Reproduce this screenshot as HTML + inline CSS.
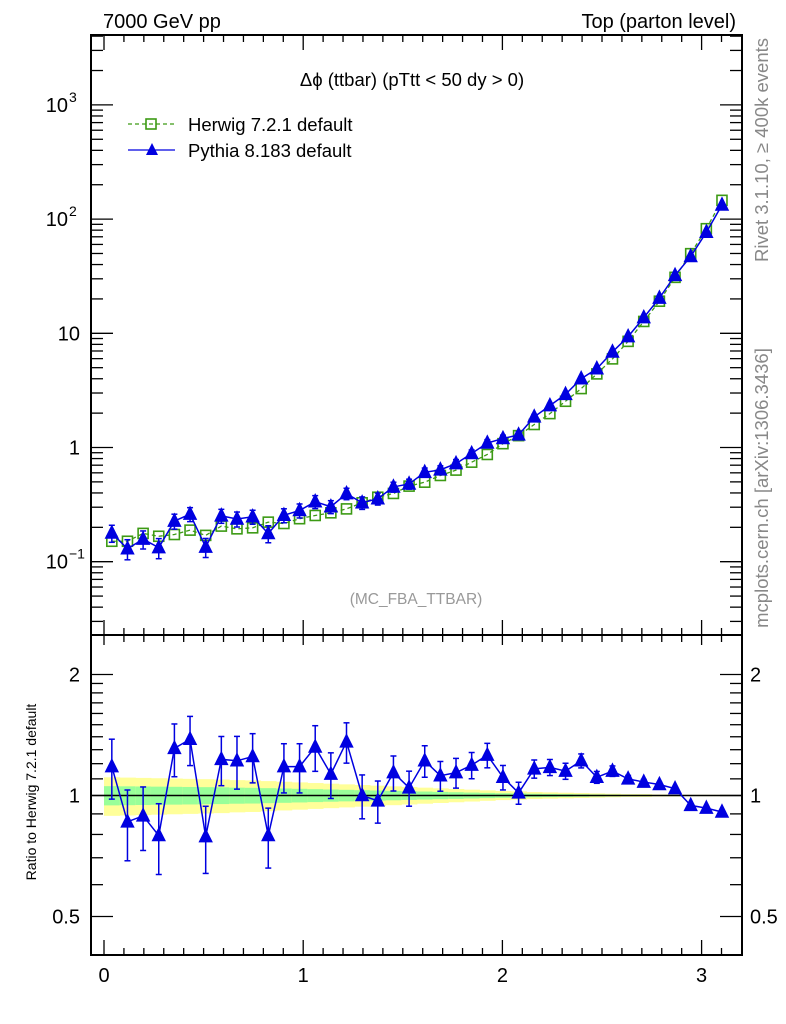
<!DOCTYPE html>
<html><head><meta charset="utf-8"><style>
html,body{margin:0;padding:0;background:#fff;}
svg{display:block;font-family:"Liberation Sans",sans-serif;}
</style></head><body>
<svg id="chart" width="786" height="1024" viewBox="0 0 786 1024" xmlns="http://www.w3.org/2000/svg">
<text x="103" y="28" font-size="20">7000 GeV pp</text>
<text x="736" y="28" font-size="20" text-anchor="end">Top (parton level)</text>
<text x="412" y="86" font-size="18.5" text-anchor="middle">Δϕ (ttbar) (pTtt &lt; 50 dy &gt; 0)</text>
<text x="416" y="604" font-size="15.5" fill="#999" text-anchor="middle">(MC_FBA_TTBAR)</text>
<text transform="translate(768,150) rotate(-90)" font-size="18.5" fill="#888" text-anchor="middle">Rivet 3.1.10, ≥ 400k events</text>
<text transform="translate(768,488) rotate(-90)" font-size="18.5" fill="#888" text-anchor="middle">mcplots.cern.ch [arXiv:1306.3436]</text>
<text transform="translate(36,792) rotate(-90)" font-size="14" text-anchor="middle">Ratio to Herwig 7.2.1 default</text>
<g id="legend">
<g>
<line x1="128" y1="124" x2="175" y2="124" stroke="#3c9a14" stroke-width="1.3" stroke-dasharray="4,3"/>
<rect x="146" y="119" width="10" height="10" fill="none" stroke="#3c9a14" stroke-width="1.6"/>
<text x="188" y="131" font-size="18.5">Herwig 7.2.1 default</text></g>
<g>
<line x1="128" y1="150" x2="175" y2="150" stroke="#0000e0" stroke-width="1.3"/>
<polygon points="152,143 158,155 146,155" fill="#0000e0"/>
<text x="188" y="157" font-size="18.5">Pythia 8.183 default</text></g>
</g>
<g id="plot"></g>
</svg>
<script>
const binCenters=[];for(let i=0;i<40;i++)binCenters.push((i+0.5)*Math.PI/40);
const herwig=[0.151,0.151,0.177,0.167,0.173,0.189,0.170,0.205,0.194,0.198,0.222,0.216,0.238,0.254,0.268,0.290,0.328,0.367,0.396,0.459,0.497,0.569,0.634,0.744,0.869,1.08,1.27,1.59,1.98,2.54,3.28,4.41,5.97,8.5,12.7,19.1,30.9,49.8,82.4,146];
const ratio=[1.18,0.86,0.89,0.795,1.31,1.38,0.79,1.23,1.22,1.25,0.795,1.18,1.18,1.32,1.13,1.36,1.0,0.97,1.14,1.045,1.22,1.12,1.14,1.19,1.26,1.11,1.015,1.165,1.175,1.15,1.22,1.11,1.15,1.10,1.08,1.065,1.04,0.945,0.93,0.91];
const pythiaRelErr=[0.17,0.2,0.18,0.2,0.15,0.14,0.19,0.14,0.15,0.14,0.17,0.14,0.14,0.13,0.13,0.115,0.125,0.12,0.1,0.1,0.09,0.085,0.085,0.075,0.07,0.07,0.063,0.052,0.046,0.046,0.04,0.034,0.03,0.02,0.015,0.012,0.01,0.008,0.007,0.006];
const herwigRelErr=[0.055,0.054,0.053,0.052,0.051,0.05,0.049,0.048,0.046,0.045,0.043,0.041,0.039,0.037,0.035,0.033,0.031,0.029,0.027,0.025,0.023,0.021,0.019,0.017,0.015,0.013,0.012,0.010,0.009,0.008,0.007,0.006,0.005,0.004,0.004,0.003,0.003,0.002,0.002,0.002];
const xTicks=[0,1,2,3];
const mainTicks=[{v:1000,l:"10",e:"3"},{v:100,l:"10",e:"2"},{v:10,l:"10",e:""},{v:1,l:"1",e:""},{v:0.1,l:"10",e:"−1"}];
const ratioTicks=[2,1,0.5];

const L=91,R=742,T=35,MB=635,RB=955;
const sx=v=>104+v*199.2;
const sy=v=>447.5-Math.log10(v)*114.2;
const sr=v=>795.5-Math.log2(v)*121;
const NS="http://www.w3.org/2000/svg";
const g=document.getElementById('plot');
function el(t,a,p){const e=document.createElementNS(NS,t);for(const k in a)e.setAttribute(k,a[k]);(p||g).appendChild(e);return e;}
const W=Math.PI/40;
const pyth=herwig.map((h,i)=>h*ratio[i]);

const bands=el('g',{});


herwigRelErr.forEach((e,i)=>{
 const x0=sx(i*W),x1=sx((i+1)*W);
 const y=el('rect',{x:x0,y:sr(1+2*e),width:x1-x0+0.5,height:sr(1-2*e)-sr(1+2*e),fill:'#ffff99'},bands);
 
 
 const gr=el('rect',{x:x0,y:sr(1+e),width:x1-x0+0.5,height:sr(1-e)-sr(1+e),fill:'#99ff99'},bands);
 
 
});
const one=el('line',{x1:L,x2:R,y1:sr(1),y2:sr(1),stroke:'#000','stroke-width':1.5});



function frame(y0,y1,name){const r=el('rect',{x:L,y:y0,width:R-L,height:y1-y0,fill:'none',stroke:'#000','stroke-width':2});}
frame(T,MB,'main-frame');frame(MB,RB,'ratio-frame');
const ax=el('g',{stroke:'#000','stroke-width':1.3});


for(let k=0;k<=31;k++){const v=k/10,x=sx(v);const maj=k%10==0;const len=maj?15:7;
 [[T,1],[MB,-1],[MB,1],[RB,-1]].forEach(([y,d])=>el('line',{x1:x,x2:x,y1:y,y2:y+d*(maj&&y==MB&&d==1?10:len)},ax));}
for(let d=-2;d<=3;d++)for(let m=1;m<10;m++){const v=m*Math.pow(10,d),y=sy(v);if(y<T||y>MB)continue;const len=m==1?22:12;
 el('line',{x1:L,x2:L+len,y1:y,y2:y},ax);el('line',{x1:R,x2:R-len,y1:y,y2:y},ax);}
[0.4,0.5,0.6,0.7,0.8,0.9,1,1.1,1.2,1.3,1.4,1.5,1.6,1.7,1.8,1.9,2].forEach(v=>{const y=sr(v);if(y<MB||y>RB)return;const len=(v==1||v==2||v==0.5)?22:12;
 el('line',{x1:L,x2:L+len,y1:y,y2:y},ax);el('line',{x1:R,x2:R-len,y1:y,y2:y},ax);});
xTicks.forEach(v=>{const t=el('text',{x:sx(v),y:982,'font-size':20,'text-anchor':'middle'});t.textContent=v;});
mainTicks.forEach(o=>{const t=el('text',{x:o.e?68:80,y:sy(o.v)+7,'font-size':20,'text-anchor':'end'});t.textContent=o.l;
 if(o.e){const s=el('text',{x:69,y:sy(o.v)-3,'font-size':14});s.textContent=o.e;}});
ratioTicks.forEach(v=>{const t=el('text',{x:80,y:sr(v)+7,'font-size':20,'text-anchor':'end'});t.textContent=v;
 const t2=el('text',{x:750,y:sr(v)+7,'font-size':20});t2.textContent=v;});

const hg=el('g',{});


el('polyline',{points:herwig.map((v,i)=>sx(binCenters[i])+','+sy(v)).join(' '),fill:'none',stroke:'#3c9a14','stroke-width':1.3,'stroke-dasharray':'4,3'},hg);
herwig.forEach((v,i)=>{const r=el('rect',{x:sx(binCenters[i])-5,y:sy(v)-5,width:10,height:10,fill:'none',stroke:'#3c9a14','stroke-width':1.6},hg);
 });

function tri(x,y,p,name){const t=el('polygon',{points:`${x},${y-7} ${x+6},${y+5} ${x-6},${y+5}`,fill:'#0000e0'},p);}
function errbar(x,y0,y1,p){el('line',{x1:x,x2:x,y1:y0,y2:y1},p);el('line',{x1:x-3,x2:x+3,y1:y0,y2:y0},p);el('line',{x1:x-3,x2:x+3,y1:y1,y2:y1},p);}
const pg=el('g',{stroke:'#0000e0','stroke-width':1.5});


el('polyline',{points:pyth.map((v,i)=>sx(binCenters[i])+','+sy(v)).join(' '),fill:'none'},pg);
pyth.forEach((v,i)=>{const x=sx(binCenters[i]);errbar(x,sy(v*(1+pythiaRelErr[i])),sy(v*(1-pythiaRelErr[i])),pg);tri(x,sy(v),pg,'pythia-point');});
const rg=el('g',{stroke:'#0000e0','stroke-width':1.5});


el('polyline',{points:ratio.map((v,i)=>sx(binCenters[i])+','+sr(v)).join(' '),fill:'none'},rg);
ratio.forEach((v,i)=>{const x=sx(binCenters[i]);errbar(x,sr(v*(1+pythiaRelErr[i])),sr(v*(1-pythiaRelErr[i])),rg);tri(x,sr(v),rg,'pythia-ratio-point');});
</script>
</body></html>
